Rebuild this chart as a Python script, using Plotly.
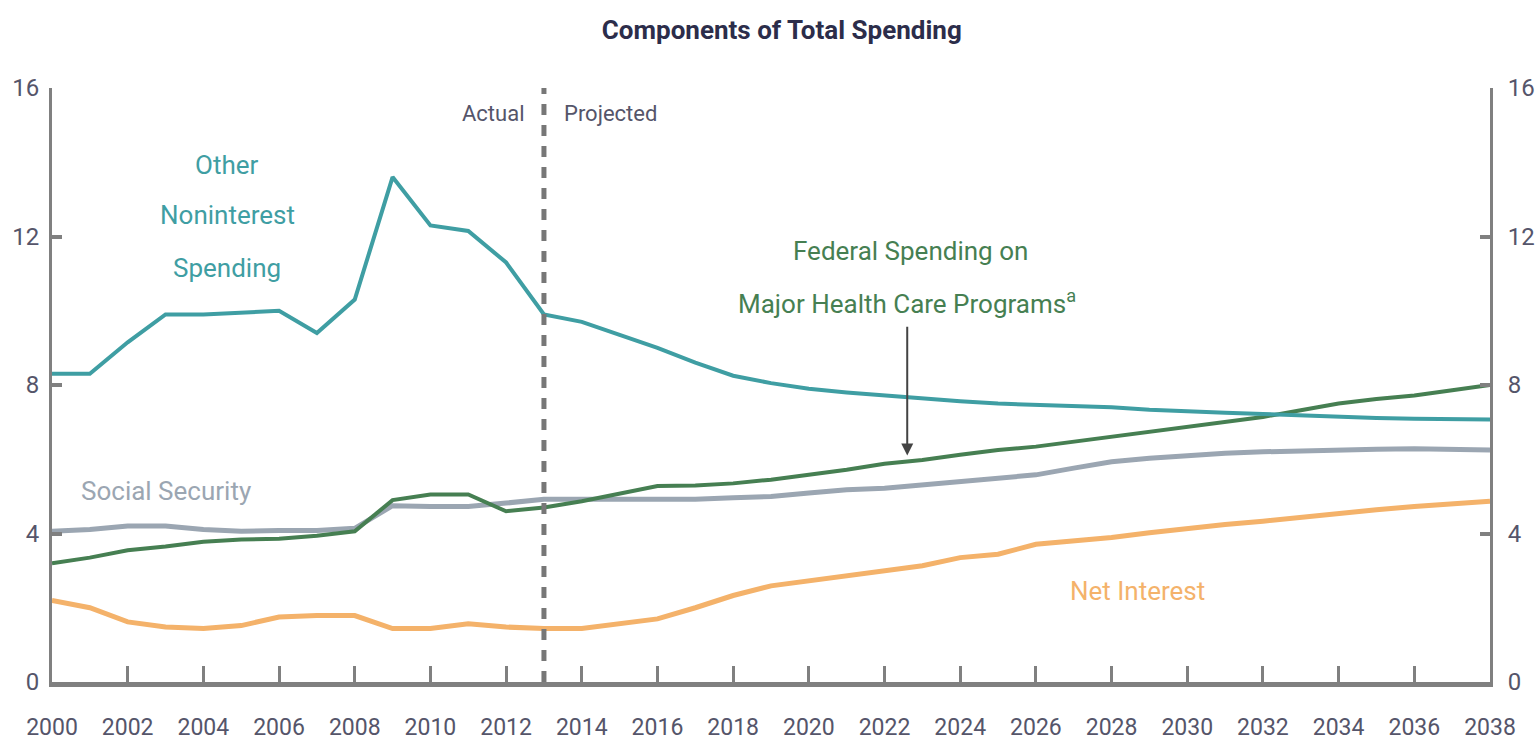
import plotly.graph_objects as go

years = list(range(2000, 2039))

other_nonint = [8.3, 8.3, 9.15, 9.9, 9.9, 9.95, 10.0, 9.4, 10.3, 13.6, 12.3, 12.15, 11.3, 9.9,
                9.7, 9.35, 9.0, 8.6, 8.25, 8.05, 7.9, 7.8, 7.72, 7.62, 7.56, 7.5, 7.46, 7.44, 7.4,
                7.33, 7.28, 7.25, 7.22, 7.18, 7.14, 7.11, 7.09, 7.08, 7.07]
health = [3.2, 3.35, 3.55, 3.65, 3.78, 3.84, 3.86, 3.94, 4.06, 4.9, 5.05, 5.05, 4.6, 4.7,
          4.87, 5.08, 5.28, 5.29, 5.35, 5.45, 5.58, 5.72, 5.88, 5.98, 6.12, 6.25, 6.34, 6.47, 6.6,
          6.73, 6.87, 7.0, 7.14, 7.32, 7.5, 7.62, 7.72, 7.86, 8.0]
social_sec = [4.06, 4.11, 4.2, 4.2, 4.11, 4.06, 4.08, 4.08, 4.14, 4.75, 4.73, 4.73, 4.82, 4.92,
              4.92, 4.92, 4.92, 4.92, 4.96, 5.0, 5.09, 5.18, 5.22, 5.31, 5.4, 5.5, 5.58, 5.76, 5.93,
              6.03, 6.11, 6.16, 6.2, 6.23, 6.25, 6.27, 6.28, 6.27, 6.25]
net_interest = [2.2, 2.0, 1.62, 1.48, 1.44, 1.52, 1.75, 1.79, 1.79, 1.44, 1.44, 1.57, 1.48, 1.44,
                1.44, 1.57, 1.7, 2.0, 2.33, 2.59, 2.73, 2.86, 3.0, 3.13, 3.35, 3.44, 3.71, 3.8, 3.89,
                4.02, 4.14, 4.24, 4.33, 4.44, 4.55, 4.64, 4.73, 4.8, 4.87]

x_ticks = list(range(2000, 2039, 2))
y_ticks = [0, 4, 8, 12, 16]

FONT = "Roboto, Arial, sans-serif"
AXIS_GRAY = "#808080"
TICK_COL = "#55556a"

teal = "#3f9ea3"
green = "#467f52"
gray = "#9ba6b2"
orange = "#f4b26a"

fig = go.Figure()
fig.add_trace(go.Scatter(x=years, y=net_interest, mode="lines", line=dict(color=orange, width=5), hoverinfo="skip"))
fig.add_trace(go.Scatter(x=years, y=social_sec, mode="lines", line=dict(color=gray, width=5), hoverinfo="skip"))
fig.add_trace(go.Scatter(x=years, y=health, mode="lines", line=dict(color=green, width=4), hoverinfo="skip"))
fig.add_trace(go.Scatter(x=years, y=other_nonint, mode="lines", line=dict(color=teal, width=4), hoverinfo="skip"))
# invisible trace for right axis
fig.add_trace(go.Scatter(x=[2000], y=[0], yaxis="y2", mode="markers", marker=dict(opacity=0), hoverinfo="skip"))

# Actual / projected divider
fig.add_shape(type="line", x0=2013, x1=2013, y0=0, y1=16, xref="x", yref="y",
              line=dict(color="#777777", width=5, dash="11px,10px"))

fig.update_layout(
    width=1536, height=744,
    margin=dict(l=52, r=46, t=88, b=62, autoexpand=False),
    paper_bgcolor="white", plot_bgcolor="white",
    showlegend=False,
    font=dict(family=FONT, color=TICK_COL),
    title=dict(text="<b>Components of Total Spending</b>", x=0.509, xanchor="center", y=0.96, yanchor="middle",
               font=dict(family=FONT, size=26, color="#2c2d4a")),
    xaxis=dict(range=[2000, 2038], tickvals=x_ticks, ticktext=[str(v) for v in x_ticks],
               showgrid=False, zeroline=False, showline=True, linecolor=AXIS_GRAY, linewidth=5,
               ticks="inside", ticklen=16, tickwidth=3, tickcolor=AXIS_GRAY, automargin=False,
               tickfont=dict(family=FONT, size=23, color=TICK_COL), ticklabelstandoff=20),
    yaxis=dict(range=[0, 16], tickvals=y_ticks, showgrid=False, zeroline=False,
               showline=True, linecolor=AXIS_GRAY, linewidth=3, automargin=False,
               ticks="inside", ticklen=10, tickwidth=4, tickcolor=AXIS_GRAY,
               tickfont=dict(family=FONT, size=24, color=TICK_COL), ticklabelstandoff=5),
    yaxis2=dict(range=[0, 16], tickvals=y_ticks, overlaying="y", side="right", showgrid=False,
                zeroline=False, showline=True, linecolor=AXIS_GRAY, linewidth=3, automargin=False,
                ticks="inside", ticklen=10, tickwidth=4, tickcolor=AXIS_GRAY,
                tickfont=dict(family=FONT, size=24, color=TICK_COL), ticklabelstandoff=10),
)

def label(text, x, y, color, size=26, xanchor="center"):
    fig.add_annotation(text=text, x=x, y=y, xref="x", yref="y", showarrow=False,
                       xanchor=xanchor, yanchor="middle",
                       font=dict(family=FONT, size=size, color=color))

label("Other", 2004.63, 13.92, teal)
label("Noninterest", 2004.63, 12.58, teal)
label("Spending", 2004.63, 11.16, teal)
label("Social Security", 2003.0, 5.14, gray)
label("Federal Spending on", 2022.68, 11.62, green)
label("Net Interest", 2028.69, 2.46, orange)
label("Actual", 2012.55, 15.3, "#55556a", size=22, xanchor="right")
label("Projected", 2013.47, 15.3, "#55556a", size=22, xanchor="left")

# label with pointer arrow to the health-care line
fig.add_annotation(text="Major Health Care Programs<sup>a</sup>", x=2022.6, y=6.1,
                   ax=2022.6, ay=10.23, xref="x", yref="y", axref="x", ayref="y",
                   showarrow=True, arrowhead=2, arrowsize=1.2, arrowwidth=2, arrowcolor="#444444",
                   startstandoff=6, font=dict(family=FONT, size=26, color=green))

fig.write_html("out.html", config={"displayModeBar": False},
               post_script="document.body.style.margin='0';")
